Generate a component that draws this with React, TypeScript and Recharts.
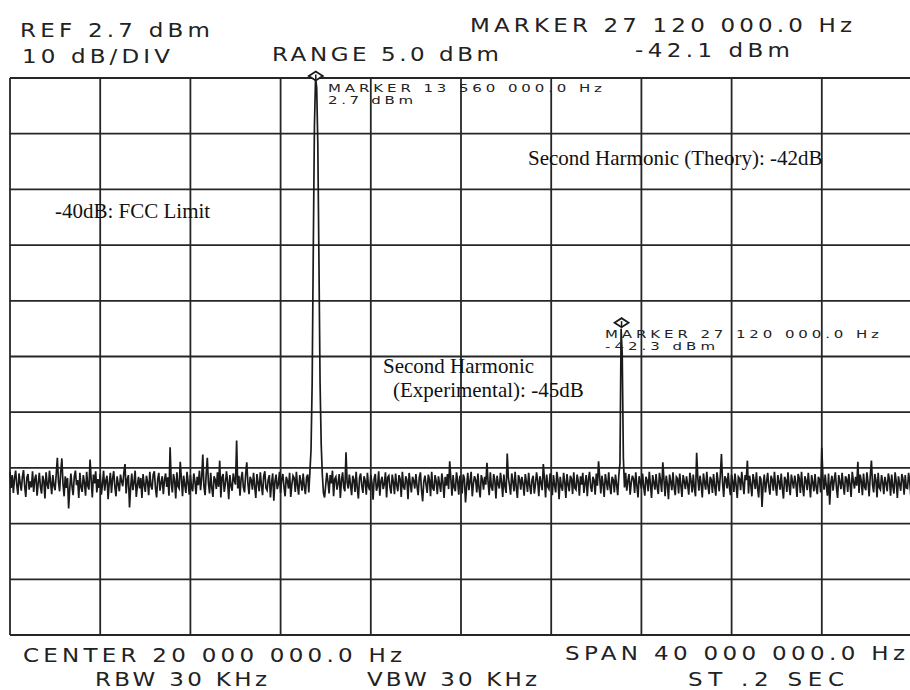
import React from 'react';
import { LineChart, Line, XAxis, YAxis, CartesianGrid, ReferenceDot } from 'recharts';

// Sweep settings (spectrum analyzer)
const SPAN_START_MHZ = 0;
const SPAN_STOP_MHZ = 40;
const SWEEP_STEP_MHZ = 0.05;
const REF_LEVEL_DBM = 2.7;
const BOTTOM_LEVEL_DBM = -97.3;

const freqTicksMHz = [0, 4, 8, 12, 16, 20, 24, 28, 32, 36, 40];
const levelTicksDbm = [2.7, -7.3, -17.3, -27.3, -37.3, -47.3, -57.3, -67.3, -77.3, -87.3, -97.3];

// Trace read from the display: one row per MHz (row k covers k.00 ... k.95 MHz, 0.05 MHz apart)
const traceRowsDbm = [
  [-68.0, -70.9, -68.6, -71.8, -69.2, -67.8, -70.4, -72.1, -68.3, -70.0, -71.4, -68.9, -67.7, -70.6, -72.5, -69.0, -68.4, -71.2, -69.7, -70.8],
  [-67.9, -71.6, -69.3, -68.5, -72.3, -70.1, -68.2, -70.7, -71.9, -68.7, -69.6, -72.8, -68.1, -70.3, -71.1, -67.8, -69.9, -72.0, -68.6, -70.5],
  [-71.3, -68.4, -65.5, -69.8, -71.5, -68.0, -65.6, -70.2, -72.4, -68.8, -70.9, -69.1, -74.6, -71.0, -68.3, -70.6, -72.2, -68.9, -67.8, -70.4],
  [-69.5, -72.7, -68.2, -70.8, -71.6, -68.6, -69.9, -72.3, -68.0, -70.5, -71.2, -65.8, -69.4, -72.6, -68.5, -70.1, -67.9, -71.7, -69.3, -70.9],
  [-68.4, -72.1, -70.3, -67.8, -71.4, -69.6, -68.7, -72.9, -70.0, -68.2, -71.8, -69.2, -67.9, -70.7, -72.4, -68.8, -70.2, -71.5, -68.5, -69.7],
  [-70.6, -68.1, -66.6, -71.9, -69.4, -68.6, -74.4, -70.8, -68.3, -71.3, -69.9, -67.8, -72.5, -70.4, -68.9, -71.0, -69.1, -72.7, -68.4, -70.3],
  [-71.6, -68.7, -69.8, -72.2, -68.0, -70.5, -71.2, -68.5, -67.9, -70.9, -72.6, -69.3, -68.2, -71.4, -70.0, -68.8, -72.0, -69.5, -68.3, -70.7],
  [-69.0, -72.3, -63.6, -70.1, -71.7, -68.4, -69.6, -72.8, -68.1, -70.6, -71.0, -66.2, -69.2, -72.4, -68.7, -70.3, -71.8, -68.0, -69.9, -72.1],
  [-68.6, -70.8, -71.5, -68.3, -69.7, -72.0, -68.9, -70.4, -67.8, -71.3, -69.1, -64.9, -70.6, -72.2, -68.5, -65.5, -70.0, -71.9, -68.2, -70.9],
  [-72.5, -68.8, -69.4, -71.1, -68.1, -70.7, -66.0, -72.6, -69.0, -68.4, -71.6, -70.2, -67.9, -69.8, -72.9, -68.6, -70.5, -71.4, -68.3, -69.6],
  [-70.3, -62.4, -71.0, -68.7, -72.3, -69.2, -68.0, -70.8, -71.7, -68.5, -66.3, -70.1, -72.0, -68.9, -69.5, -71.2, -68.2, -70.6, -72.7, -68.4],
  [-69.9, -71.5, -68.1, -70.4, -72.2, -68.8, -67.9, -70.9, -71.3, -69.4, -68.6, -72.6, -70.0, -68.3, -73.2, -69.7, -68.5, -71.1, -70.2, -68.0],
  [-71.8, -69.3, -68.4, -70.7, -72.4, -68.9, -69.6, -71.0, -68.2, -72.5, -70.3, -68.7, -69.1, -71.6, -68.0, -70.5, -72.1, -68.6, -69.8, -71.4],
  [-68.3, -70.6, -72.0, -69.0, -68.5, -71.7, -68.0, -64.0, -52.0, -28.0, -6.0, 2.7, 1.0, -9.0, -30.0, -52.0, -63.0, -68.5, -71.8, -72.6],
  [-70.4, -68.2, -69.7, -71.9, -68.6, -70.1, -67.8, -72.4, -69.3, -68.9, -71.2, -70.0, -68.4, -72.7, -69.5, -68.1, -70.8, -71.5, -64.5, -69.9],
  [-71.0, -68.5, -70.3, -72.2, -68.7, -69.4, -71.6, -68.0, -70.9, -72.8, -69.1, -68.3, -70.5, -71.8, -68.8, -69.6, -72.1, -68.2, -70.7, -71.3],
  [-68.6, -70.0, -73.0, -69.2, -68.4, -71.4, -70.6, -67.9, -72.3, -69.7, -68.9, -71.1, -70.2, -68.1, -72.6, -69.0, -68.7, -70.8, -71.9, -68.5],
  [-69.8, -72.0, -68.3, -70.4, -71.5, -68.6, -69.3, -72.5, -68.0, -70.7, -71.2, -68.8, -69.5, -72.9, -68.2, -70.1, -71.7, -68.9, -69.6, -71.0],
  [-68.4, -70.6, -72.2, -69.0, -68.1, -71.3, -73.3, -69.8, -68.7, -70.3, -71.8, -68.5, -69.4, -72.4, -68.0, -70.9, -71.4, -68.6, -69.7, -72.0],
  [-68.8, -70.2, -71.6, -68.3, -69.9, -72.7, -68.9, -70.5, -68.4, -71.1, -66.1, -69.3, -72.3, -68.6, -70.8, -71.5, -68.1, -69.6, -72.1, -68.7],
  [-70.0, -71.9, -68.5, -69.2, -73.5, -70.6, -68.2, -71.3, -69.7, -68.0, -72.4, -70.1, -68.8, -69.5, -71.7, -68.3, -70.9, -72.6, -68.6, -69.4],
  [-71.2, -68.9, -70.3, -66.4, -69.8, -72.2, -68.1, -70.7, -71.4, -68.4, -69.6, -72.8, -68.7, -70.2, -71.0, -68.2, -69.9, -72.5, -68.5, -70.6],
  [-71.8, -64.7, -69.1, -70.4, -72.1, -68.3, -69.7, -71.5, -68.0, -70.8, -72.7, -68.6, -69.3, -71.2, -68.9, -70.1, -72.3, -68.4, -69.8, -71.6],
  [-68.2, -70.5, -72.0, -69.4, -68.7, -71.9, -70.3, -68.1, -69.6, -72.4, -68.8, -70.0, -71.3, -66.6, -69.2, -72.6, -68.5, -70.7, -71.1, -68.3],
  [-69.9, -72.2, -68.6, -70.4, -71.7, -68.0, -69.5, -72.9, -68.9, -70.6, -71.4, -68.2, -69.8, -72.7, -68.4, -70.2, -71.5, -68.7, -69.3, -72.0],
  [-68.1, -70.9, -71.2, -68.5, -69.7, -72.3, -68.8, -70.3, -68.2, -71.8, -70.1, -68.6, -72.4, -69.4, -68.0, -70.7, -71.6, -68.9, -69.5, -72.1],
  [-68.3, -70.5, -66.1, -69.0, -71.9, -68.7, -70.2, -72.5, -68.4, -69.8, -71.3, -68.1, -70.6, -72.0, -68.9, -69.4, -71.7, -68.5, -70.3, -72.2],
  [-68.6, -66.5, -42.3, -47.0, -65.5, -70.8, -68.2, -71.4, -69.6, -68.4, -72.1, -70.0, -68.7, -69.3, -71.8, -68.1, -70.5, -72.6, -68.8, -69.7],
  [-71.0, -68.3, -70.6, -72.3, -68.9, -69.5, -71.5, -68.0, -70.2, -72.7, -68.6, -69.9, -71.2, -68.4, -70.8, -72.0, -68.2, -69.6, -71.6, -66.3],
  [-69.4, -72.4, -68.7, -70.1, -72.9, -68.5, -69.8, -71.3, -68.1, -70.7, -72.2, -68.9, -69.2, -71.9, -68.3, -70.4, -72.5, -68.6, -69.7, -71.1],
  [-68.8, -70.3, -72.1, -68.2, -69.6, -71.7, -68.5, -70.9, -72.4, -64.6, -69.0, -71.4, -68.7, -70.2, -72.6, -68.3, -69.9, -71.2, -68.0, -70.5],
  [-72.0, -68.9, -69.4, -71.8, -68.4, -70.6, -72.3, -68.1, -69.7, -71.5, -68.6, -64.8, -70.0, -72.5, -68.8, -69.3, -71.0, -68.2, -70.7, -72.2],
  [-68.5, -69.8, -71.6, -68.3, -70.4, -72.7, -68.9, -69.2, -71.3, -68.0, -70.1, -72.0, -68.6, -69.5, -66.0, -71.9, -68.7, -70.3, -72.4, -68.4],
  [-69.6, -71.1, -68.1, -70.8, -72.6, -68.8, -69.3, -74.3, -70.2, -68.5, -71.7, -69.9, -68.2, -70.6, -72.1, -68.7, -69.4, -71.4, -68.0, -70.5],
  [-72.3, -68.6, -69.7, -71.2, -68.3, -70.9, -72.8, -68.9, -69.5, -71.6, -68.1, -70.4, -72.2, -68.5, -69.8, -71.0, -68.7, -70.1, -72.5, -68.4],
  [-69.2, -71.8, -68.0, -70.7, -72.4, -68.8, -69.6, -71.3, -68.2, -70.3, -72.6, -68.6, -69.9, -71.5, -68.4, -70.8, -72.0, -68.9, -69.4, -71.7],
  [-63.7, -69.1, -71.2, -68.5, -70.6, -72.3, -68.3, -73.9, -70.0, -68.7, -71.4, -69.5, -68.1, -70.9, -72.7, -68.6, -69.8, -71.1, -68.2, -70.4],
  [-72.1, -68.8, -69.3, -71.6, -68.4, -70.2, -72.5, -68.0, -69.7, -71.0, -68.9, -70.5, -66.2, -71.8, -68.5, -69.6, -72.2, -68.3, -70.7, -71.3],
  [-68.1, -69.9, -72.4, -68.7, -66.0, -70.3, -71.7, -68.4, -69.5, -72.6, -68.2, -70.8, -71.2, -68.6, -69.8, -72.0, -68.9, -70.1, -71.5, -68.3],
  [-69.4, -72.3, -68.5, -70.6, -71.9, -68.1, -69.7, -72.7, -68.8, -70.2, -71.4, -68.4, -69.3, -72.1, -68.6, -70.9, -71.0, -68.2, -69.8, -72.5],
  [-68.7],
];

// Markers (frequency MHz, level dBm)
const markerFreqMHz = [13.56, 27.12];
const markerLevelDbm = [2.7, -42.3];

const data = traceRowsDbm.flatMap((row, k) =>
  row.map((v, j) => ({ f: Number((SPAN_START_MHZ + k + j * SWEEP_STEP_MHZ).toFixed(2)), dbm: v }))
);

const INK = '#1a1a1a';

const makeDiamond = (lift: number) => (props: any) => {
  const { cx, cy } = props;
  if (cx == null || cy == null) return <g />;
  const y = cy - lift;
  return (
    <g>
      <polygon
        points={`${cx - 7},${y} ${cx},${y - 4.5} ${cx + 7},${y} ${cx},${y + 4.5}`}
        fill="#fff"
        stroke={INK}
        strokeWidth={1.8}
      />
      <line x1={cx} y1={y - 1.5} x2={cx} y2={y + 4.5} stroke={INK} strokeWidth={1.5} />
    </g>
  );
};

const plotFont = '"DejaVu Sans", sans-serif';
const serifFont = '"Liberation Serif", "Times New Roman", serif';

// Plotter-style text: wide glyphs, squashed vertically, stretched to a given length
const PlotText = ({ x, y, len, size, sy, children }: any) => (
  <text
    transform={`translate(${x},${y}) scale(1,${sy})`}
    x={0}
    y={0}
    fontFamily={plotFont}
    fontSize={size}
    fill="#222"
    textLength={len}
    lengthAdjust="spacing"
  >
    {children}
  </text>
);

export default function App() {
  return (
    <div style={{ position: 'absolute', left: 0, top: 0, width: 910, height: 690, overflow: 'hidden', background: '#fff' }}>
      <LineChart width={920} height={690} data={data} margin={{ top: 78, right: 8, bottom: 55, left: 10 }}>
        <XAxis dataKey="f" type="number" domain={[SPAN_START_MHZ, SPAN_STOP_MHZ]} ticks={freqTicksMHz} hide />
        <YAxis type="number" domain={[BOTTOM_LEVEL_DBM, REF_LEVEL_DBM]} ticks={levelTicksDbm} hide />
        <CartesianGrid stroke="#262626" strokeWidth={1.8} />
        <Line
          type="linear"
          dataKey="dbm"
          stroke={INK}
          strokeWidth={1.7}
          dot={false}
          isAnimationActive={false}
        />
        <ReferenceDot x={markerFreqMHz[0]} y={markerLevelDbm[0]} ifOverflow="visible" shape={makeDiamond(2)} />
        <ReferenceDot x={markerFreqMHz[1]} y={markerLevelDbm[1]} ifOverflow="visible" shape={makeDiamond(6)} />
      </LineChart>
      <svg width={910} height={690} style={{ position: 'absolute', left: 0, top: 0, pointerEvents: 'none' }}>
        <PlotText x={20} y={37} len={190} size={23} sy={0.85}>REF 2.7 dBm</PlotText>
        <PlotText x={22} y={63} len={148} size={23} sy={0.85}>10 dB/DIV</PlotText>
        <PlotText x={272} y={61} len={227} size={23} sy={0.85}>RANGE 5.0 dBm</PlotText>
        <PlotText x={470} y={32} len={382} size={23} sy={0.85}>MARKER 27 120 000.0 Hz</PlotText>
        <PlotText x={635} y={57} len={155} size={23} sy={0.85}>-42.1 dBm</PlotText>
        <PlotText x={23} y={662} len={379} size={23} sy={0.85}>CENTER 20 000 000.0 Hz</PlotText>
        <PlotText x={95} y={686} len={172} size={23} sy={0.85}>RBW 30 KHz</PlotText>
        <PlotText x={367} y={686} len={170} size={23} sy={0.85}>VBW 30 KHz</PlotText>
        <PlotText x={565} y={660} len={340} size={23} sy={0.85}>SPAN 40 000 000.0 Hz</PlotText>
        <PlotText x={688} y={686} len={156} size={23} sy={0.85}>ST .2 SEC</PlotText>

        <PlotText x={328} y={92} len={274} size={15} sy={0.7}>MARKER 13 560 000.0 Hz</PlotText>
        <PlotText x={328} y={104} len={85} size={15} sy={0.7}>2.7 dBm</PlotText>
        <PlotText x={605} y={338} len={274} size={15} sy={0.7}>MARKER 27 120 000.0 Hz</PlotText>
        <PlotText x={605} y={350} len={110} size={15} sy={0.7}>-42.3 dBm</PlotText>

        <g fontFamily={serifFont} fontSize={21} fill="#111">
          <text x={55} y={218}>-40dB: FCC Limit</text>
          <text x={528} y={165}>Second Harmonic (Theory): -42dB</text>
          <text x={383} y={373}>Second Harmonic</text>
          <text x={393} y={397}>(Experimental):  -45dB</text>
        </g>
      </svg>
    </div>
  );
}
